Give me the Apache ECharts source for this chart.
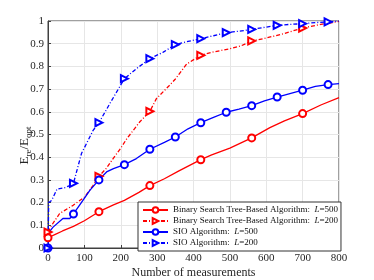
<!DOCTYPE html>
<html>
<head>
<meta charset="utf-8">
<script src="https://cdn.jsdelivr.net/npm/echarts@6/dist/echarts.min.js"></script>
<style>html,body{margin:0;padding:0;background:#fff}#c{width:374px;height:280px}</style>
</head>
<body>
<div id="c"></div>
<script>
// Binary Search Tree-Based Algorithm, L=500
var bstL500X = [0,20,40,70,100,140,180,210,250,280,320,360,420,450,500,560,610,650,700,750,800];
var bstL500Y = [0.045,0.06,0.075,0.095,0.12,0.16,0.19,0.21,0.245,0.275,0.305,0.34,0.389,0.41,0.44,0.485,0.53,0.56,0.592,0.63,0.662];
var bstL500Marks = [0,140,280,420,560,700];
// Binary Search Tree-Based Algorithm, L=200
var bstL200X = [0,10,32,69,101,124,140,160,179,200,216,252,280,298,330,349,381,420,450,500,530,560,600,647,700,750,800];
var bstL200Y = [0.07,0.1,0.152,0.188,0.225,0.276,0.316,0.35,0.394,0.44,0.48,0.555,0.602,0.658,0.71,0.742,0.81,0.849,0.862,0.878,0.89,0.912,0.925,0.944,0.969,0.985,0.998];
var bstL200Marks = [0,140,280,420,560,700];
// SIO Algorithm, L=500
var sioL500X = [0,3,14,41,60,70,96,115,140,161,180,210,243,280,320,350,385,420,455,490,525,560,595,630,665,700,735,770,800];
var sioL500Y = [0,0.07,0.092,0.13,0.13,0.15,0.21,0.254,0.30,0.335,0.35,0.367,0.394,0.435,0.465,0.489,0.525,0.552,0.575,0.598,0.612,0.627,0.648,0.665,0.68,0.695,0.712,0.72,0.724];
var sioL500Marks = [0,70,140,210,280,350,420,490,560,630,700,770];
// SIO Algorithm, L=200
var sioL200X = [0,2,10,25,45,60,70,92,124,140,170,210,243,280,317,350,385,420,455,490,525,560,595,630,665,700,735,770,800];
var sioL200Y = [0,0.2,0.21,0.26,0.265,0.275,0.285,0.416,0.518,0.552,0.636,0.746,0.79,0.834,0.863,0.896,0.91,0.922,0.935,0.949,0.955,0.963,0.972,0.981,0.985,0.988,0.993,0.996,1.0];
var sioL200Marks = [0,70,140,210,280,350,420,490,560,630,700,770];

var seriesNames = [
  'Binary Search Tree-Based Algorithm: L=500',
  'Binary Search Tree-Based Algorithm: L=200',
  'SIO Algorithm: L=500',
  'SIO Algorithm: L=200'
];

function build(xs, ys, marks, sym) {
  return xs.map(function (x, i) {
    return { value: [x, ys[i]], symbol: marks.indexOf(x) >= 0 ? sym : 'none' };
  });
}

var FONT = 'Liberation Serif';
var chart = echarts.init(document.getElementById('c'), null, { renderer: 'canvas' });

function mkSeries(name, xs, ys, marks, color, sym, dashed) {
  return {
    name: name,
    type: 'line',
    data: build(xs, ys, marks, sym),
    symbol: sym,
    symbolSize: 7,
    symbolRotate: sym === 'emptyTriangle' ? -90 : 0,
    showAllSymbol: true,
    lineStyle: { color: color, width: 1.3, type: dashed ? [4, 2, 1, 2] : 'solid' },
    itemStyle: { color: color, borderColor: color, borderWidth: 1.2 },
    animation: false,
    z: 3
  };
}

var option = {
  backgroundColor: '#fff',
  animation: false,
  grid: { left: 48, right: 35, top: 21, bottom: 32, show: true, borderColor: '#404040', borderWidth: 1,
          backgroundColor: 'transparent', containLabel: false, outerBoundsMode: 'none' },
  xAxis: {
    type: 'value', min: 0, max: 800, interval: 100,
    name: 'Number of measurements', nameLocation: 'middle', nameGap: 19, nameMoveOverlap: false,
    nameTextStyle: { fontFamily: FONT, fontSize: 12, color: '#262626' },
    axisLine: { show: true, lineStyle: { color: '#404040' } },
    axisTick: { inside: true, length: 3, lineStyle: { color: '#404040' } },
    axisLabel: { fontFamily: FONT, fontSize: 11, color: '#262626', margin: 5 },
    splitLine: { show: true, lineStyle: { color: '#e6e6e6', width: 1 } }
  },
  yAxis: {
    type: 'value', min: 0, max: 1, interval: 0.1,
    name: '{m|E}{s|re}{m|/E}{s|opt}', nameLocation: 'middle', nameGap: 17, nameRotate: 90, nameMoveOverlap: false,
    nameTextStyle: {
      fontFamily: FONT, fontSize: 13, color: '#262626',
      padding: [0, 22, 0, 0],
      rich: {
        m: { fontFamily: FONT, fontSize: 13, color: '#262626', lineHeight: 13, verticalAlign: 'top' },
        s: { fontFamily: FONT, fontSize: 9, color: '#262626', lineHeight: 9, verticalAlign: 'top', padding: [6, 0, 0, 0] }
      }
    },
    axisLine: { show: true, lineStyle: { color: '#404040' } },
    axisTick: { inside: true, length: 3, lineStyle: { color: '#404040' } },
    axisLabel: { fontFamily: FONT, fontSize: 11, color: '#262626', margin: 4 },
    splitLine: { show: true, lineStyle: { color: '#e6e6e6', width: 1 } }
  },
  legend: {
    orient: 'vertical',
    left: 138, top: 202,
    padding: [3, 3, 3, 4],
    itemGap: 1,
    itemWidth: 25, itemHeight: 7,
    backgroundColor: '#fff',
    borderColor: '#333', borderWidth: 1,
    data: seriesNames,
    formatter: function (n) {
      var p = n.split('L=');
      return '{a|' + p[0] + ' }{i|L}{a|=' + p[1] + '}';
    },
    textStyle: {
      fontFamily: FONT, fontSize: 9, color: '#111', lineHeight: 10,
      rich: {
        a: { fontFamily: FONT, fontSize: 9, color: '#111', lineHeight: 10 },
        i: { fontFamily: FONT, fontSize: 9, color: '#111', fontStyle: 'italic', lineHeight: 10 }
      }
    }
  },
  series: [
    mkSeries(seriesNames[0], bstL500X, bstL500Y, bstL500Marks, '#ff0000', 'emptyCircle', false),
    mkSeries(seriesNames[1], bstL200X, bstL200Y, bstL200Marks, '#ff0000', 'emptyTriangle', true),
    mkSeries(seriesNames[2], sioL500X, sioL500Y, sioL500Marks, '#0000ff', 'emptyCircle', false),
    mkSeries(seriesNames[3], sioL200X, sioL200Y, sioL200Marks, '#0000ff', 'emptyTriangle', true)
  ]
};
chart.setOption(option);
</script>
</body>
</html>
